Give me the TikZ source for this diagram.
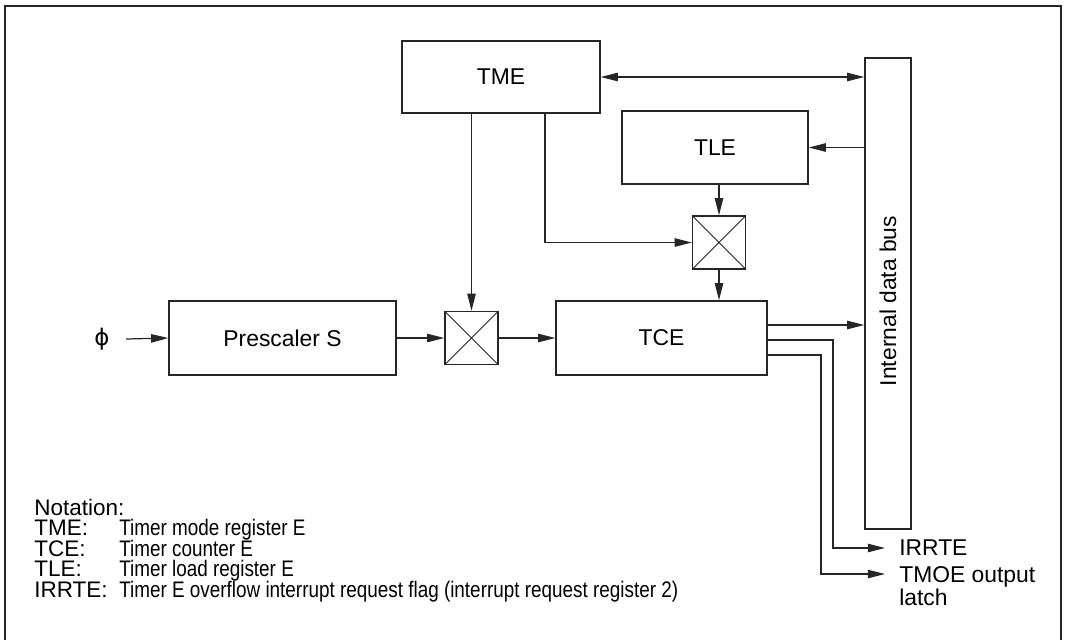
\documentclass[tikz,border=0pt]{standalone}
\usepackage{fontspec}
\setmainfont{Liberation Sans}
\newfontfamily\grkfont{DejaVu Sans}
\usetikzlibrary{arrows.meta}
\begin{document}
\begin{tikzpicture}[x=.02cm,y=-.02cm,font=\fontsize{13}{13}\selectfont,
 box/.style={draw=black!85,line width=.8pt,inner sep=0pt},
 mux/.style={box,minimum size=1.06cm,path picture={\draw[line width=.5pt] (path picture bounding box.north west)--(path picture bounding box.south east) (path picture bounding box.north east)--(path picture bounding box.south west);}},
 con/.style={draw=black!85,line width=.7pt,-{Triangle[length=9.8pt,width=4.8pt]}},
 note/.style={anchor=base west,inner sep=0pt,font=\fontsize{12.8}{13}\selectfont}]
\useasboundingbox (0,0) rectangle (1065,640);
\draw[line width=1.1pt,black!85] (5,640)--(5,6)--(1061,6)--(1061,640);
% registers and bus
\node[box,minimum width=3.96cm,minimum height=1.44cm] (tme) at (501,77) {TME};
\node[box,minimum width=3.72cm,minimum height=1.46cm] (tle) at (715,147.5) {TLE};
\node[box,minimum width=.92cm,minimum height=9.42cm] (bus) at (888,293.5) {};
\node[rotate=90] (lbus) at (888,301) {Internal data bus};
\node[mux] (mux2) at (719,242.5) {};
% count chain
\node (phi) at (102,339) {\grkfont ϕ};
\node[box,minimum width=4.54cm,minimum height=1.48cm] (pre) at (282.5,338) {Prescaler S};
\node[mux] (mux1) at (471.5,338) {};
\node[box,minimum width=4.22cm,minimum height=1.48cm] (tce) at (661.5,338) {TCE};
\draw[con] ([xshift=.21cm]phi.east) -- (pre.west);
\draw[con] (pre.east) -- (mux1.west);
\draw[con] (mux1.east) -- (tce.west);
% control and load paths
\draw[con,{Triangle[length=9.8pt,width=4.8pt]}-{Triangle[length=9.8pt,width=4.8pt]}] (tme.east) -- (tme.east -| bus.west);
\draw[con] (tle.east -| bus.west) -- (tle.east);
\draw[con] (tme.south -| mux1.north) -- (mux1.north);
\draw[con] ([xshift=.88cm]tme.south) |- (mux2.west);
\draw[con] (tle.south -| mux2.north) -- (mux2.north);
\draw[con] (mux2.south) -- (mux2.south |- tce.north);
% outputs
\coordinate (irrte) at (885,548); \coordinate (tmoe) at (885,574);
\draw[con] ([yshift=.26cm]tce.east) -- ([yshift=.26cm]tce.east -| bus.west);
\draw[con] ([yshift=-.04cm]tce.east) -| ([xshift=-1.04cm]irrte) -- (irrte);
\draw[con] ([yshift=-.34cm]tce.east) -| ([xshift=-1.28cm]tmoe) -- (tmoe);
\node[anchor=west,inner sep=0pt] (lirrte) at ([xshift=.28cm]irrte) {IRRTE};
\node[anchor=north west,inner sep=0pt,align=left] (ltmoe) at ([xshift=.28cm,yshift=.16cm]tmoe) {TMOE output\\latch};
% notation
\node[note] (n0) at (34,515) {Notation:};
\foreach \k/\d [count=\i] in {TME:/{Timer mode register E},TCE:/{Timer counter E},TLE:/{Timer load register E},IRRTE:/{Timer E overflow interrupt request flag (interrupt request register 2)}}{\node[note] (k\i) at (34,515+20.5*\i) {\k}; \node[note,xscale=.84,transform shape] (d\i) at (119,515+20.5*\i) {\d};}
\end{tikzpicture}
\end{document}
